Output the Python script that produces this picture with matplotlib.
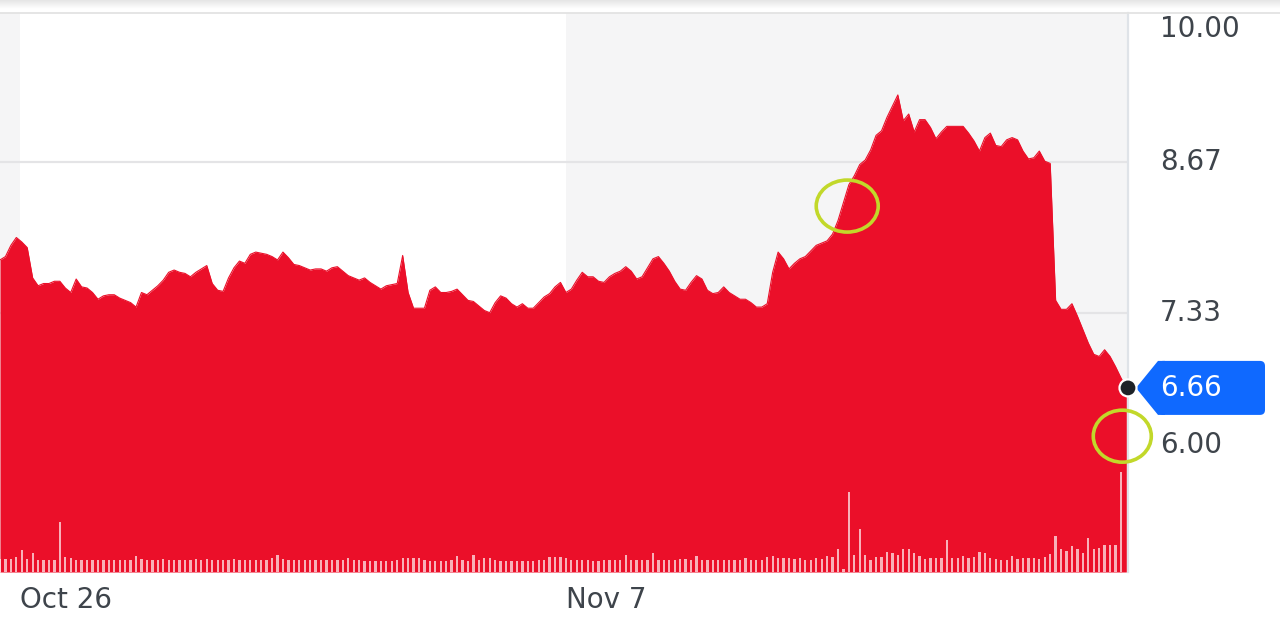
import matplotlib
matplotlib.use("Agg")
import matplotlib.pyplot as plt
import matplotlib.transforms as mtransforms
from matplotlib.patches import Ellipse, Polygon, FancyBboxPatch, Circle
from matplotlib.lines import Line2D
import numpy as np

# ---------------- data ----------------
price = [
    7.80, 7.83, 7.93, 8.00, 7.96, 7.91, 7.64, 7.57, 7.59, 7.59,
    7.61, 7.61, 7.55, 7.51, 7.63, 7.56, 7.55, 7.51, 7.45, 7.48,
    7.49, 7.49, 7.46, 7.44, 7.42, 7.38, 7.51, 7.49, 7.53, 7.57,
    7.62, 7.69, 7.71, 7.69, 7.68, 7.65, 7.69, 7.72, 7.75, 7.59,
    7.53, 7.52, 7.64, 7.73, 7.79, 7.77, 7.85, 7.87, 7.86, 7.85,
    7.83, 7.80, 7.87, 7.82, 7.76, 7.75, 7.73, 7.71, 7.72, 7.72,
    7.70, 7.73, 7.74, 7.70, 7.66, 7.64, 7.62, 7.64, 7.60, 7.57,
    7.54, 7.57, 7.58, 7.59, 7.84, 7.51, 7.37, 7.37, 7.37, 7.53,
    7.56, 7.51, 7.51, 7.52, 7.54, 7.49, 7.44, 7.43, 7.39, 7.35,
    7.33, 7.42, 7.48, 7.46, 7.41, 7.38, 7.41, 7.37, 7.37, 7.42,
    7.47, 7.50, 7.56, 7.60, 7.51, 7.54, 7.62, 7.69, 7.65, 7.65,
    7.61, 7.60, 7.65, 7.68, 7.70, 7.74, 7.70, 7.63, 7.65, 7.73,
    7.81, 7.83, 7.77, 7.70, 7.61, 7.54, 7.53, 7.60, 7.66, 7.63,
    7.53, 7.50, 7.51, 7.56, 7.51, 7.48, 7.45, 7.45, 7.42, 7.38,
    7.38, 7.41, 7.69, 7.87, 7.81, 7.72, 7.77, 7.81, 7.83, 7.88,
    7.93, 7.95, 7.97, 8.03, 8.15, 8.31, 8.47, 8.55, 8.65, 8.69,
    8.78, 8.91, 8.95, 9.07, 9.17, 9.27, 9.04, 9.10, 8.94, 9.05,
    9.05, 8.98, 8.88, 8.94, 8.99, 8.99, 8.99, 8.99, 8.93, 8.86,
    8.77, 8.89, 8.93, 8.82, 8.81, 8.87, 8.89, 8.87, 8.77, 8.70,
    8.71, 8.77, 8.68, 8.66, 7.44, 7.36, 7.36, 7.41, 7.30, 7.18,
    7.06, 6.96, 6.94, 7.00, 6.94, 6.85, 6.75, 6.66,
]

volume = [  # tens of thousands of shares
    13, 13, 13, 15, 22, 13, 19, 12, 12, 12,
    12, 50, 15, 14, 12, 12, 12, 12, 12, 12,
    12, 12, 12, 12, 12, 16, 13, 12, 12, 12,
    13, 12, 12, 12, 12, 12, 13, 12, 13, 12,
    12, 12, 12, 13, 12, 12, 12, 12, 12, 12,
    14, 17, 13, 12, 12, 12, 12, 12, 12, 12,
    12, 12, 12, 12, 14, 12, 12, 11, 11, 11,
    11, 11, 11, 12, 14, 14, 14, 14, 12, 11,
    11, 11, 11, 12, 16, 12, 11, 17, 12, 14,
    14, 12, 11, 11, 11, 11, 11, 11, 11, 12,
    12, 15, 15, 15, 14, 12, 12, 12, 12, 11,
    11, 12, 12, 12, 12, 17, 12, 12, 12, 12,
    19, 12, 12, 12, 12, 13, 13, 12, 16, 12,
    12, 12, 12, 12, 12, 12, 12, 14, 12, 12,
    12, 15, 16, 14, 14, 14, 13, 14, 12, 12,
    14, 13, 16, 15, 23, 3, 80, 17, 43, 17,
    12, 15, 15, 20, 19, 17, 23, 23, 19, 16,
    13, 14, 14, 14, 32, 14, 14, 16, 14, 15,
    20, 19, 14, 13, 12, 12, 16, 13, 14, 14,
    14, 13, 15, 18, 36, 23, 21, 26, 23, 19,
    34, 23, 24, 27, 27, 27, 100,
]

tick_pos = [3.68, 104.0]
tick_labels = ["Oct 26", "Nov 7"]
ytick_vals = [10.00, 8.67, 7.33, 6.00]
ytick_text = ["10.00", "8.67", "7.33", "6.00"]
ytick_nudge_px = [-16, 0, 0, 17]   # label nudges (px, positive = up)
grid_vals = [8.67, 7.33]
last_price = price[-1]
last_label = "6.66"

# ---------------- style ----------------
RED = "#eb0f29"
TXT = "#3e444b"
BLUE = "#0f69ff"
GREEN = "#c2d82a"
plt.rcParams["font.family"] = ["DejaVu Sans"]

W, H = 1280, 628
fig = plt.figure(figsize=(W / 100, H / 100), dpi=100)
fig.patch.set_facecolor("white")

ymin, ymax = 5.02, 10.0
rect = [0, 56 / H, 1128 / W, 559 / H]
ax = fig.add_axes(rect)
ax.set_xlim(0, 207.3)
ax.set_ylim(ymin, ymax)
ax.set_facecolor("#f5f5f6")
ax.axvspan(tick_pos[0], tick_pos[1], color="white", zorder=0, lw=0)
for g in grid_vals:
    ax.axhline(g, color="#e4e4e6", lw=1.6, zorder=1)

xp = np.arange(len(price))
ax.fill_between(xp, price, ymin, color=RED, lw=0, zorder=2)
ax.plot(xp, price, color=RED, lw=0.8, zorder=3)

for s in ax.spines.values():
    s.set_visible(False)
ax.set_yticks([])
ax.set_xticks(tick_pos)
ax.set_xticklabels(tick_labels)
ax.tick_params(axis="x", length=0, pad=10, labelsize=20, labelcolor=TXT)
for lbl in ax.get_xticklabels():
    lbl.set_horizontalalignment("left")

# right axis line
ax.add_line(Line2D([1, 1], [0, 1], transform=ax.transAxes, color="#dfe3e8",
                   lw=1.6, clip_on=False, zorder=5))

# y labels on the right
for v, t, dy in zip(ytick_vals, ytick_text, ytick_nudge_px):
    tr = mtransforms.blended_transform_factory(ax.transAxes, ax.transData) + \
        mtransforms.ScaledTranslation(0, dy / 100, fig.dpi_scale_trans)
    ax.text(1 + 32 / 1128, v, t, transform=tr, ha="left", va="center",
            fontsize=20, color=TXT, clip_on=False)

# volume overlay
axv = fig.add_axes(rect, sharex=ax)
axv.patch.set_alpha(0)
axv.axis("off")
axv.set_ylim(0, 559)
xv = np.arange(len(volume))
axv.bar(xv, volume, width=0.42, color="white", alpha=0.68, lw=0, zorder=2)
axv.set_xlim(0, 207.3)

# top line and shadow
fig.add_artist(Line2D([0, 1], [1 - 13 / H] * 2, transform=fig.transFigure,
                      color="#e3e3e3", lw=1.3))
axs = fig.add_axes([0, 1 - 9 / H, 1, 9 / H])
grad = np.linspace(0.90, 1.0, 20).reshape(-1, 1)
axs.imshow(np.dstack([grad, grad, grad]), aspect="auto", extent=[0, 1, 0, 1])
axs.axis("off")

# annotations in display pixels
ident = mtransforms.IdentityTransform()
ax_right_px, yc = ax.transData.transform((207.3, last_price))

c1 = ax.transData.transform((155.7, 8.28))
c2 = ax.transData.transform((206.25, 6.23))
fig.add_artist(Ellipse(c1, 62, 52, transform=ident, fill=False, ec=GREEN,
                       lw=2.6, zorder=6))
fig.add_artist(Ellipse(c2, 58, 52, transform=ident, fill=False, ec=GREEN,
                       lw=2.6, zorder=6))

# price tag
fig.add_artist(FancyBboxPatch((ax_right_px + 30, yc - 27), 107, 54,
                              boxstyle="round,pad=0,rounding_size=5",
                              transform=ident, fc=BLUE, ec="none", zorder=7))
fig.add_artist(Polygon([(ax_right_px + 8, yc), (ax_right_px + 30, yc + 27),
                        (ax_right_px + 37, yc + 27), (ax_right_px + 37, yc - 27),
                        (ax_right_px + 30, yc - 27)], closed=True,
                       transform=ident, fc=BLUE, ec="none", zorder=7))
fig.text(ax_right_px + 32, yc, last_label, transform=ident, ha="left",
         va="center", fontsize=20, color="white", zorder=9)
fig.add_artist(Circle((ax_right_px, yc), 8.5, transform=ident, fc="#1d2228",
                      ec="white", lw=1.6, zorder=10))

fig.savefig("out.png", dpi=100, facecolor="white")
